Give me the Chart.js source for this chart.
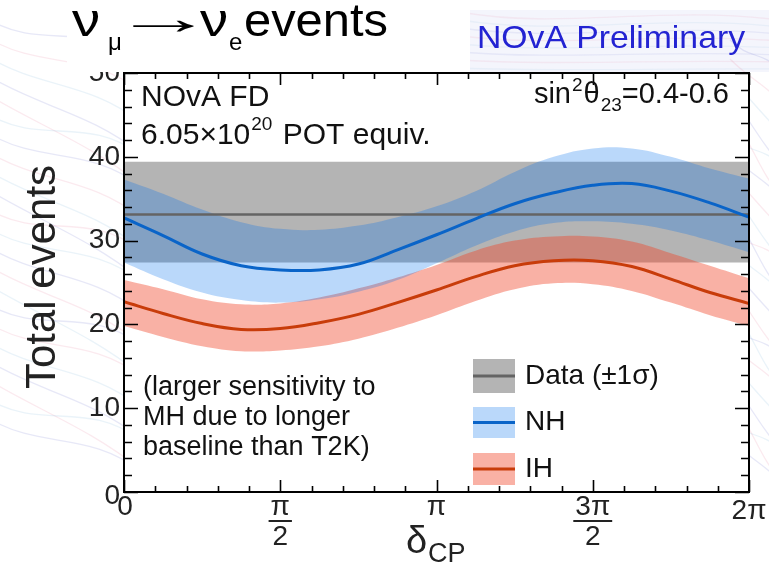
<!DOCTYPE html>
<html><head><meta charset="utf-8">
<script src="https://cdn.jsdelivr.net/npm/chart.js@4/dist/chart.umd.min.js"></script>
<style>html,body{margin:0;padding:0;background:#fff;overflow:hidden}#wrap{width:769px;height:575px;position:relative}</style>
</head><body><div id="wrap"><canvas id="c" width="769" height="575"></canvas></div>
<script>
// x positions in units of pi (delta_CP / pi)
const deltaOverPi = [0,0.125,0.25,0.375,0.5,0.625,0.75,0.875,1,1.125,1.25,1.375,1.5,1.625,1.75,1.875,2];
const nhCentral = [32.7,30.6,28.4,27.0,26.5,26.5,27.2,28.9,30.7,32.6,34.4,35.7,36.6,36.8,35.9,34.5,32.8];
const nhUpper   = [37.3,35.6,33.7,32.2,31.4,31.3,31.8,32.8,34.1,35.9,38.2,40.0,41.0,41.0,40.0,38.6,37.4];
const nhLower   = [27.4,25.4,23.8,22.9,22.6,23.0,23.9,25.3,27.3,29.4,31.1,32.1,32.3,32.0,31.2,30.0,28.6];
const ihCentral = [22.7,21.3,20.1,19.4,19.5,20.2,21.2,22.6,24.1,25.7,27.0,27.6,27.6,26.9,25.4,23.8,22.5];
const ihUpper   = [25.3,24.2,23.0,22.4,22.5,23.2,24.3,25.6,27.1,28.8,30.0,30.5,30.5,29.9,28.5,27.0,25.5];
const ihLower   = [19.8,18.5,17.4,16.8,16.9,17.4,18.3,19.6,21.1,22.8,24.2,24.9,24.8,24.0,22.6,21.1,19.8];
const dataX = [0,2];
const dataCentral = [33.1,33.1];
const dataUpper = [39.4,39.4];
const dataLower = [27.4,27.4];
const yTickValues = [0,10,20,30,40,50];
const yTickLabels = ['0','10','20','30','40','50'];
const xTickValues = [0,0.5,1,1.5,2];
const xTickNumerators = ['0','\u03C0','\u03C0','3\u03C0','2\u03C0'];
const xTickDenominators = ['','2','','2',''];
const legendLabels = ['Data (\u00B11\u03C3)','NH','IH'];

const pts = (xs, ys) => xs.map((x,i)=>({x:x, y:ys[i]}));

const C_GRAY_BAND = 'rgb(180,180,180)';
const C_GRAY_LINE = 'rgb(100,100,100)';
const C_NH_BAND = 'rgba(0,110,235,0.27)';
const C_NH_LINE = 'rgb(10,100,200)';
const C_IH_BAND = 'rgba(240,70,40,0.42)';
const C_IH_LINE = 'rgb(200,60,10)';
const FONT = '"Liberation Sans", Arial, Helvetica, sans-serif';

const bandDs = (data, color, fill) => ({data, borderWidth:0, borderColor:'rgba(0,0,0,0)', backgroundColor:color, fill:fill, pointRadius:0, tension:0.4});
const lineDs = (data, color, w) => ({data, borderWidth:w, borderColor:color, fill:false, pointRadius:0, tension:0.4});

function fitText(ctx, txt, x0, x1, y, fontPx){
  ctx.save();
  ctx.font = fontPx + 'px ' + FONT;
  const m = ctx.measureText(txt);
  const gw = m.actualBoundingBoxRight + m.actualBoundingBoxLeft;
  const sx = (x1 - x0) / gw;
  ctx.translate(x0 + m.actualBoundingBoxLeft * sx, y);
  ctx.scale(sx, 1);
  ctx.fillText(txt, 0, 0);
  ctx.restore();
}

const decor = {
  id:'decor',
  beforeDraw(chart){
    const ctx = chart.ctx, a = chart.chartArea;
    ctx.save();
    ctx.fillStyle = '#fff'; ctx.fillRect(0,0,chart.width,chart.height);
    ctx.fillStyle = 'rgb(244,245,252)'; ctx.fillRect(470,10,299,62);
    const cols = ['rgba(120,130,210,0.18)','rgba(235,150,175,0.20)','rgba(140,190,220,0.18)'];
    ctx.lineWidth = 1.3;
    for (let i=0;i<22;i++){
      ctx.strokeStyle = cols[i%3];
      const y0 = 20 + i*19, y1 = y0 + 40 + (i%5)*12;
      ctx.beginPath();
      ctx.moveTo(-10, y0);
      ctx.bezierCurveTo(40, y0+30, 90, y1-40, 140, y1);
      ctx.stroke();
      ctx.beginPath();
      ctx.moveTo(730, y0+20);
      ctx.bezierCurveTo(750, y0+40, 760, y1-10, 780, y1+10);
      ctx.stroke();
    }
    const cols2 = ['rgba(120,130,210,0.12)','rgba(235,150,175,0.14)','rgba(140,190,220,0.12)'];
    for (let i=0;i<8;i++){
      ctx.strokeStyle = cols2[(i+1)%3];
      ctx.beginPath();
      ctx.moveTo(460, 12+i*8);
      ctx.bezierCurveTo(560, 30+i*6, 660, 5+i*9, 780, 20+i*7);
      ctx.stroke();
    }
    ctx.fillStyle = '#fff';
    ctx.fillRect(a.left, a.top, a.right-a.left, a.bottom-a.top);
    ctx.restore();
  },
  afterDraw(chart){
    const ctx = chart.ctx, a = chart.chartArea;
    const xs = chart.scales.x, ys = chart.scales.y;
    ctx.save();
    ctx.strokeStyle = '#000'; ctx.lineWidth = 2;
    ctx.strokeRect(a.left, a.top, a.right-a.left, a.bottom-a.top);
    ctx.lineWidth = 1.6;
    for (let v=0; v<=50; v+=2){
      const y = Math.round(ys.getPixelForValue(v))+0.5;
      const L = (v%10===0) ? 14 : 8;
      ctx.beginPath();
      ctx.moveTo(a.left, y); ctx.lineTo(a.left+L, y);
      ctx.moveTo(a.right, y); ctx.lineTo(a.right-L, y);
      ctx.stroke();
    }
    for (let k=0; k<=20; k++){
      const v = k*0.1;
      const x = Math.round(xs.getPixelForValue(v))+0.5;
      const L = (k%5===0) ? 12 : 6;
      ctx.beginPath();
      ctx.moveTo(x, a.bottom); ctx.lineTo(x, a.bottom-L);
      ctx.moveTo(x, a.top); ctx.lineTo(x, a.top+L);
      ctx.stroke();
    }
    ctx.fillStyle = '#222';
    ctx.font = '28px ' + FONT;
    ctx.textAlign = 'right'; ctx.textBaseline = 'middle';
    yTickValues.forEach((v,i)=>{
      ctx.fillText(yTickLabels[i], a.left-4, ys.getPixelForValue(v) + (v===0?4:0));
    });
    ctx.textAlign = 'center';
    xTickValues.forEach((v,i)=>{
      const x = xs.getPixelForValue(v);
      if (xTickDenominators[i]){
        ctx.fillText(xTickNumerators[i], x, a.bottom+15);
        const w = ctx.measureText(xTickNumerators[i]).width + 4;
        ctx.fillRect(x-w/2, a.bottom+28, w, 2);
        ctx.fillText(xTickDenominators[i], x, a.bottom+45);
      } else {
        ctx.fillText(xTickNumerators[i], x + (v===0?1:0), a.bottom + (v===2?19:15));
      }
    });
    ctx.textAlign = 'left'; ctx.textBaseline = 'alphabetic';
    ctx.font = '38px ' + FONT;
    ctx.fillText('\u03B4', 406, 553);
    ctx.font = '27px ' + FONT;
    ctx.fillText('CP', 428, 562);
    ctx.save();
    ctx.translate(55, 277); ctx.rotate(-Math.PI/2);
    ctx.font = '42px ' + FONT; ctx.textAlign='center'; ctx.textBaseline='alphabetic';
    ctx.fillText('Total events', 0, 0);
    ctx.restore();
    ctx.fillStyle = '#111';
    ctx.font = '30px ' + FONT;
    ctx.fillText('NOvA FD', 141, 106);
    let x = 141;
    ctx.fillText('6.05\u00D710', x, 144); x += ctx.measureText('6.05\u00D710').width;
    ctx.font = '19px ' + FONT; ctx.fillText('20', x+1, 130); x += ctx.measureText('20').width + 3;
    ctx.font = '30px ' + FONT; ctx.fillText(' POT equiv.', x, 144);
    const parts = [['sin',29,0,0],['2',19,-12,2],['\u03B8',29,0,1],['23',19,8,0],['=0.4-0.6',29,0,0]];
    let tw = 0; parts.forEach(p=>{ctx.font=p[1]+'px '+FONT; tw += ctx.measureText(p[0]).width + p[3];});
    x = 729 - tw;
    parts.forEach(p=>{ctx.font=p[1]+'px '+FONT; ctx.fillText(p[0], x + (p[3]===2?1:0), 103+p[2]); x += ctx.measureText(p[0]).width + p[3];});
    ctx.font = '27px ' + FONT;
    ctx.fillText('(larger sensitivity to', 143, 395);
    ctx.fillText('MH due to longer', 143, 425);
    ctx.fillText('baseline than T2K)', 143, 455);
    const lg = [[359,393,C_GRAY_BAND,C_GRAY_LINE],[407,438,C_NH_BAND,C_NH_LINE],[453,485,C_IH_BAND,C_IH_LINE]];
    lg.forEach((g,i)=>{
      ctx.fillStyle = g[2]; ctx.fillRect(473, g[0], 42, g[1]-g[0]);
      ctx.strokeStyle = g[3]; ctx.lineWidth = 3;
      const ym = (g[0]+g[1])/2;
      ctx.beginPath(); ctx.moveTo(473, ym); ctx.lineTo(515, ym); ctx.stroke();
      ctx.fillStyle = '#111'; ctx.font = '28px ' + FONT; ctx.textBaseline='middle';
      ctx.fillText(legendLabels[i], 525, ym);
    });
    ctx.textBaseline='alphabetic';
    ctx.fillStyle = '#fff'; ctx.fillRect(67, 0, 403, 72);
    ctx.fillStyle = '#000';
    fitText(ctx, '\u03BD', 72, 99, 36, 46);
    ctx.font = '24px ' + FONT; ctx.fillText('\u03BC', 108, 50);
    fitText(ctx, '\u2192', 133, 195, 34, 46);
    fitText(ctx, '\u03BD', 200, 227, 36, 46);
    ctx.font = '24px ' + FONT; ctx.fillText('e', 229, 50);
    fitText(ctx, 'events', 245, 387, 36, 46);
    ctx.fillStyle = 'rgb(35,35,210)';
    fitText(ctx, 'NOvA Preliminary', 479, 745, 48, 32);
    ctx.restore();
  }
};

new Chart(document.getElementById('c'), {
  type:'line',
  data:{datasets:[
    lineDs(pts(deltaOverPi, ihCentral), C_IH_LINE, 3),
    lineDs(pts(deltaOverPi, nhCentral), C_NH_LINE, 3),
    lineDs(pts(dataX, dataCentral), C_GRAY_LINE, 2.5),
    bandDs(pts(deltaOverPi, nhUpper), C_NH_BAND, '+1'),
    bandDs(pts(deltaOverPi, nhLower), C_NH_BAND, false),
    bandDs(pts(deltaOverPi, ihUpper), C_IH_BAND, '+1'),
    bandDs(pts(deltaOverPi, ihLower), C_IH_BAND, false),
    bandDs(pts(dataX, dataUpper), C_GRAY_BAND, '+1'),
    bandDs(pts(dataX, dataLower), C_GRAY_BAND, false)
  ]},
  options:{
    responsive:false, animation:false, devicePixelRatio:1,
    layout:{padding:{left:124, right:20, top:73, bottom:83}},
    plugins:{legend:{display:false}, tooltip:{enabled:false}},
    scales:{
      x:{type:'linear', min:0, max:2, display:false},
      y:{type:'linear', min:0, max:50, display:false}
    }
  },
  plugins:[decor]
});
</script></body></html>
